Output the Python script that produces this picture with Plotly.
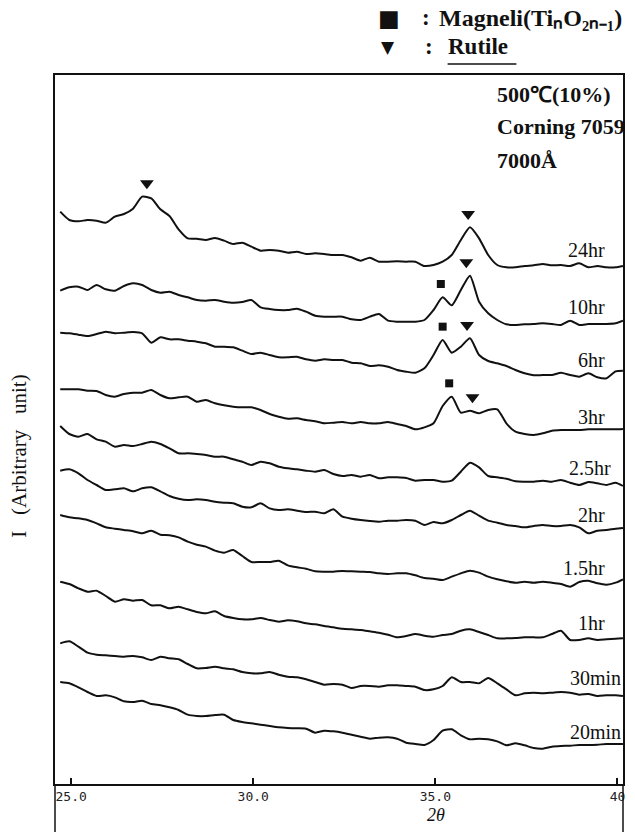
import numpy as np
import plotly.graph_objects as go

# 2-theta sampling grid (degrees)
theta = [round(v, 2) for v in np.arange(24.7, 40.0, 0.25)] + [40.15]

labels = ["24hr", "10hr", "6hr", "3hr", "2.5hr", "2hr", "1.5hr", "1hr", "30min", "20min"]
offsets = [1542, 1372, 1212, 1042, 887, 747, 587, 422, 257, 97]

i_24hr = [175,150,146,150,148,142,160,168,184,220, 215,182,162,122,95,94,90,96,88,78,
          82,70,58,60,58,52,55,48,50,48, 45,45,38,28,37,25,25,26,25,25,
          12,15,25,45,90,128,95,45,15,8, 8,12,14,18,14,15,12,20,8,12, 8,8,12]
i_10hr = [108,118,120,110,125,112,108,122,130,125, 110,102,105,95,88,80,78,80,75,72,
          74,80,58,53,50,50,54,45,33,30, 30,30,22,20,30,38,18,15,15,15,
          20,50,88,64,110,153,75,40,20,7, 5,7,8,10,8,5,18,5,8,8, 8,10,18]
i_6hr = [142,140,136,132,138,145,140,142,144,140, 112,128,122,122,118,115,110,100,100,98,
         88,78,82,75,68,68,70,62,58,62, 60,60,52,50,42,44,40,30,25,22,
         35,75,120,82,100,125,75,57,50,42, 30,20,14,15,15,22,15,10,20,8, 5,26,28]
i_3hr = [142,142,142,138,137,125,120,128,132,132, 140,125,115,118,120,105,110,100,94,90,
         88,88,80,68,60,54,55,50,46,40, 42,44,40,44,40,40,44,38,32,22,
         28,40,92,120,72,78,70,80,82,40, 15,8,5,10,18,20,20,20,22,22, 22,22,23]
i_2p5hr = [187,163,155,163,147,140,125,130,127,133, 140,133,120,105,105,103,100,95,95,87,
           80,70,80,75,65,60,57,53,50,55, 43,37,40,35,40,30,33,33,31,23,
           25,25,20,23,50,77,63,37,33,29, 21,20,20,23,20,25,17,10,19,15, 10,17,7]
i_2hr = [193,197,185,165,150,135,137,140,131,140, 143,131,117,109,105,107,105,100,97,95,
         85,83,95,80,75,77,73,69,70,65, 77,55,49,45,42,40,43,43,45,43,
         30,39,35,45,60,73,58,43,37,30, 27,23,27,30,27,27,30,23,5,13, 15,19,21]
i_1p5hr = [220,213,210,205,195,183,179,175,171,165, 173,161,159,153,140,131,125,113,107,115,
           97,79,79,79,83,69,63,59,51,50, 50,52,51,50,49,45,43,45,45,39,
           31,29,25,35,45,53,47,35,27,21, 17,20,17,20,17,13,5,19,23,15, 11,17,27]
i_1hr = [185,178,165,155,158,142,125,132,128,130, 114,114,105,110,102,94,90,96,82,76,
         72,72,76,70,65,69,66,60,57,52, 48,44,42,40,36,32,26,18,22,28,
         23,20,25,28,38,42,34,25,15,15, 16,18,18,18,28,38,10,10,15,10, 12,14,15]
i_30min = [165,171,155,137,131,129,127,125,127,123, 115,125,120,117,103,90,91,95,90,87,
           79,75,75,79,71,65,63,57,49,41, 43,41,31,37,37,35,39,39,37,35,
           25,27,37,63,49,49,45,61,45,27, 9,15,17,15,17,19,17,11,13,7, 9,9,7]
i_20min = [209,205,193,179,167,169,163,151,149,153, 143,139,133,125,111,107,107,110,111,95,
           89,85,81,77,73,71,70,69,57,63, 61,57,51,45,39,42,43,39,27,23,
           20,35,63,67,49,37,39,37,31,19, 25,19,11,9,15,17,18,20,20,21, 23,23,23]

series = [i_24hr, i_10hr, i_6hr, i_3hr, i_2p5hr, i_2hr, i_1p5hr, i_1hr, i_30min, i_20min]

# peak identifications: (pattern, phase, 2theta)
peak_marks = [("24hr", "Rutile", 27.08), ("24hr", "Rutile", 35.9),
              ("10hr", "Magneli", 35.15), ("10hr", "Rutile", 35.85),
              ("6hr", "Magneli", 35.2), ("6hr", "Rutile", 35.87),
              ("3hr", "Magneli", 35.38), ("3hr", "Rutile", 36.02)]

xtick_vals = [25, 30, 35, 40]
xtick_text = ["25.0", "30.0", "35.0", "40"]

# layout helpers (styling only)
label_right = {"2.5hr": 39.88, "30min": 40.14, "20min": 40.14}
INK = "#111111"
SERIF = "Liberation Serif"

fig = go.Figure()
for lab, vals, off in zip(labels, series, offsets):
    fig.add_trace(go.Scatter(
        x=theta, y=[off + v for v in vals], mode="lines",
        line=dict(color=INK, width=2.0, shape="spline", smoothing=0.6),
        showlegend=False, hoverinfo="skip"))
    fig.add_annotation(x=label_right.get(lab, 39.72), y=off + 60, xref="x", yref="y",
                       text=lab, showarrow=False, xanchor="right", yanchor="middle",
                       font=dict(family=SERIF, size=20, color=INK))

th = np.array(theta)
for phase in ["Rutile", "Magneli"]:
    xs, ys = [], []
    for lab, ph, t in peak_marks:
        if ph != phase:
            continue
        i = labels.index(lab)
        vals = np.array(series[i])
        near = vals[np.abs(th - t) <= 0.15]
        xs.append(t)
        ys.append(offsets[i] + near.max() + 40)
    fig.add_trace(go.Scatter(
        x=xs, y=ys, mode="markers", showlegend=False, hoverinfo="skip",
        marker=dict(symbol="triangle-down" if phase == "Rutile" else "square",
                    size=12 if phase == "Rutile" else 8, color=INK,
                    line=dict(width=0))))

fig.update_layout(
    width=635, height=832,
    margin=dict(l=55, r=10, t=75, b=48),
    paper_bgcolor="white", plot_bgcolor="white",
    xaxis=dict(range=[24.557, 40.152], showline=True, linecolor=INK, linewidth=1.5,
               mirror=True, ticks="inside", ticklen=6, tickwidth=1.5, tickcolor=INK,
               tickvals=xtick_vals, ticktext=xtick_text, showgrid=False, zeroline=False,
               tickfont=dict(family="DejaVu Sans Mono", size=13, color="#222")),
    yaxis=dict(range=[0, 2127], showline=True, linecolor=INK, linewidth=1.5, mirror=True,
               showticklabels=False, ticks="", showgrid=False, zeroline=False),
    shapes=[
        dict(type="line", xref="paper", yref="paper", x0=0, x1=0, y0=0, y1=-0.07,
             line=dict(color=INK, width=1.5)),
        dict(type="line", xref="paper", yref="paper", x0=1, x1=1, y0=0, y1=-0.07,
             line=dict(color=INK, width=1.5)),
        dict(type="line", xref="paper", yref="paper", x0=0.6912, x1=0.8123, y0=1.0155,
             y1=1.0155, line=dict(color=INK, width=1.5)),
    ],
)

bold = dict(family=SERIF, size=23, color=INK, weight="bold")
sym = dict(family="DejaVu Sans", color=INK)


def paper_text(txt, x, y, font, anchor="left"):
    fig.add_annotation(xref="paper", yref="paper", x=x, y=y, xanchor=anchor,
                       yanchor="middle", showarrow=False, font=font, text=txt)


paper_text("■", 0.5650, 1.0804, dict(sym, size=23))
paper_text(":", 0.6526, 1.0804, bold, "center")
paper_text("Magneli(TiₙO₂ₙ₋₁)", 0.6720, 1.0804, dict(bold, size=24))
paper_text("▼", 0.5700, 1.0395, dict(sym, size=17))
paper_text(":", 0.6579, 1.0395, bold, "center")
paper_text("Rutile", 0.6890, 1.0395, bold)
for txt, yy in [("500℃(10%)", 0.9718), ("Corning 7059", 0.9267), ("7000Å", 0.8801)]:
    paper_text(txt, 0.7754, yy, dict(bold, size=22))

fig.add_annotation(xref="paper", yref="paper", x=-0.0640, y=0.4626, textangle=-90,
                   showarrow=False, xanchor="center", yanchor="middle",
                   font=dict(family=SERIF, size=21, color=INK),
                   text="I   (Arbitrary   unit)")
fig.add_annotation(xref="paper", yref="paper", x=0.670, y=-0.0437, showarrow=False,
                   xanchor="center", yanchor="middle",
                   font=dict(family=SERIF, size=18, color=INK, style="italic"),
                   text="2θ")

fig.write_html("out.html")
